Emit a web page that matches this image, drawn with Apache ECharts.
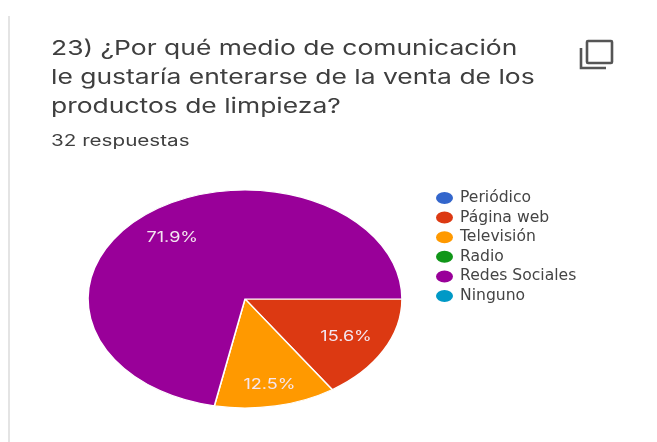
<!DOCTYPE html>
<html>
<head>
<meta charset="utf-8">
<style>html,body{margin:0;padding:0;background:#fff}#c{width:657px;height:442px}</style>
<script src="https://cdn.jsdelivr.net/npm/echarts@6/dist/echarts.min.js"></script>
</head>
<body>
<div id="c"></div>
<script>
const titleLines = ['23) ¿Por qué medio de comunicación', 'le gustaría enterarse de la venta de los', 'productos de limpieza?'];
const subtitle = '32 respuestas';
const categories = ['Periódico', 'Página web', 'Televisión', 'Radio', 'Redes Sociales', 'Ninguno'];
const responses = [0, 5, 4, 0, 23, 0];
const palette = ['#3366cc', '#dc3912', '#ff9900', '#109618', '#990099', '#0099c6'];

// The whole card is wider than it is tall, so slices are squashed sectors
// and free text is widened by the same kind of factor.
const pie = { cx: 245, cy: 299, rx: 157, ry: 109 };
const labelReach = [0.73, 0.73, 0.8, 0.73, 0.73, 0.73];
const textStretch = 1.29;
const total = responses.reduce((a, b) => a + b, 0);
const fontFamily = 'Inter, "Open Sans", sans-serif';

function sliceRenderer(index) {
  return function (params, api) {
    const value = api.value(0);
    if (!value) return null;
    const before = responses.slice(0, index).reduce((a, b) => a + b, 0);
    const start = before / total * Math.PI * 2;
    const end = (before + value) / total * Math.PI * 2;
    const mid = (start + end) / 2;
    return {
      type: 'group',
      children: [
        {
          type: 'sector',
          x: pie.cx,
          y: pie.cy,
          scaleY: pie.ry / pie.rx,
          shape: { cx: 0, cy: 0, r0: 0, r: pie.rx, startAngle: start, endAngle: end, clockwise: true },
          style: { fill: palette[index], stroke: '#fff', lineWidth: 1.6 }
        },
        {
          type: 'text',
          x: pie.cx + Math.cos(mid) * pie.rx * labelReach[index],
          y: pie.cy + Math.sin(mid) * pie.ry * labelReach[index],
          scaleX: textStretch,
          style: {
            text: (value / total * 100).toFixed(1) + '%',
            fill: '#f4e6f0',
            font: '14px ' + fontFamily,
            align: 'center',
            verticalAlign: 'middle'
          }
        }
      ]
    };
  };
}

function stretchedText(text, y, size) {
  return {
    type: 'text',
    x: 51,
    y,
    scaleX: textStretch,
    style: { text, fill: '#3f3f3f', font: size + 'px ' + fontFamily, verticalAlign: 'middle' }
  };
}

const chart = echarts.init(document.getElementById('c'), null, { renderer: 'canvas' });
chart.setOption({
  animation: false,
  backgroundColor: '#fff',
  color: palette,
  legend: {
    data: categories,
    orient: 'vertical',
    left: 431,
    top: 185,
    icon: 'path://M0,6A8.5,6,0,1,1,17,6A8.5,6,0,1,1,0,6Z',
    itemWidth: 17,
    itemHeight: 12,
    itemGap: 3.6,
    selectedMode: false,
    textStyle: { fontFamily: '"DejaVu Sans", sans-serif', fontSize: 15.6, color: '#444', padding: [0, 0, 0, 2] }
  },
  graphic: [
    { type: 'rect', shape: { x: 8, y: 16, width: 2, height: 426 }, style: { fill: '#e4e4e4' } },
    {
      type: 'rect',
      shape: { x: 587, y: 41, width: 25, height: 22, r: 1 },
      style: { fill: 'none', stroke: '#555', lineWidth: 2.6 }
    },
    {
      type: 'polyline',
      shape: { points: [[581, 48], [581, 68], [606, 68]] },
      style: { fill: 'none', stroke: '#555', lineWidth: 2.6 }
    },
    stretchedText(titleLines[0], 49, 20.5),
    stretchedText(titleLines[1], 78, 20.5),
    stretchedText(titleLines[2], 107, 20.5),
    stretchedText(subtitle, 141, 16)
  ],
  series: categories.map((name, i) => ({
    type: 'custom',
    name,
    coordinateSystem: 'none',
    itemStyle: { color: palette[i] },
    renderItem: sliceRenderer(i),
    data: [[responses[i]]]
  }))
});
</script>
</body>
</html>
